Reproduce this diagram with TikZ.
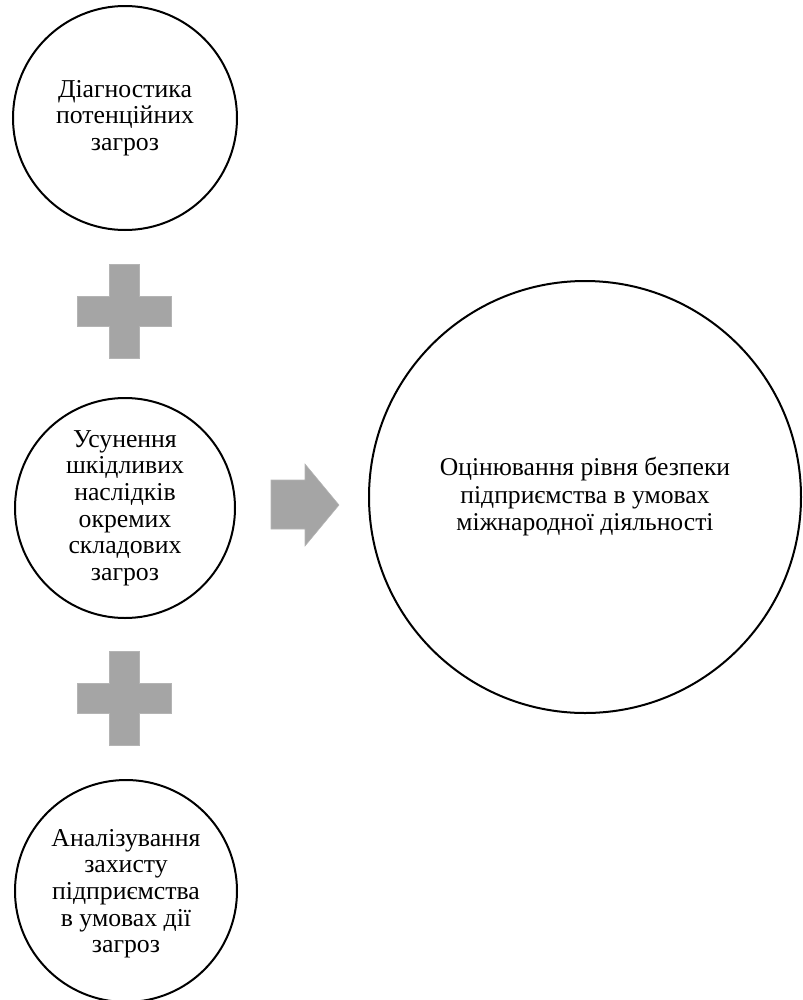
\documentclass[tikz,border=0pt]{standalone}
\usepackage{fontspec}
\setmainfont{Liberation Serif}
\definecolor{signgray}{HTML}{A5A5A5}
\definecolor{signedge}{HTML}{B4B4B4}
\begin{document}
\begin{tikzpicture}[x=0.75pt,y=-0.75pt,
  ring/.style={circle,draw=black,line width=1.5pt,inner sep=0pt,align=center,
    font=\fontsize{19.3}{20}\selectfont},
  bigring/.style={ring,font=\fontsize{19.2}{20.6}\selectfont},
  sign/.style={fill=signgray,draw=signedge,line width=0.4pt}]
\useasboundingbox (0,0) rectangle (803,1000);
\node[ring,minimum size=168pt] (diag) at (125,118) {Діагностика\\потенційних\\загроз};
\node[ring,minimum size=165pt] (usun) at (125,508) {Усунення\\шкідливих\\наслідків\\окремих\\складових\\загроз};
\node[ring,minimum size=166.5pt,text depth=-4pt] (anal) at (126,891) {Аналізування\\захисту\\підприємства\\в умовах дії\\загроз};
\node[bigring,minimum size=324pt] (otsin) at (585,497) {Оцінювання рівня безпеки\\підприємства в умовах\\міжнародної діяльності};
% plus signs
\path[sign] (109,264) -- (139,264) -- (139,296) -- (171,296) -- (171,326) -- (139,326) -- (139,358) -- (109,358) -- (109,326) -- (77,326) -- (77,296) -- (109,296) -- cycle;
\path[sign] (109,651) -- (139,651) -- (139,683) -- (171,683) -- (171,713) -- (139,713) -- (139,745) -- (109,745) -- (109,713) -- (77,713) -- (77,683) -- (109,683) -- cycle;
% arrow
\path[sign] (271,480) -- (305,480) -- (305,464) -- (339,505) -- (305,546) -- (305,529) -- (271,529) -- cycle;
\end{tikzpicture}
\end{document}
